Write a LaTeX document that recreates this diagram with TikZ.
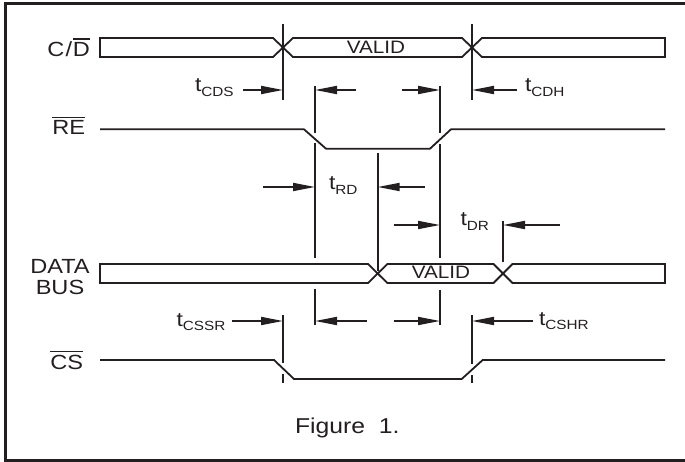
\documentclass[tikz,border=0pt]{standalone}
\usepackage{fontspec}
\setmainfont{Liberation Sans}[FakeStretch=1.15]
\usetikzlibrary{arrows.meta}
\definecolor{ink}{HTML}{231F20}
\newcommand\ovl[1]{\leavevmode\vbox{\hrule height 1.6pt\kern 2.6pt\hbox{#1}}}
\newcommand\lblfont{\fontsize{20.5}{22}\selectfont}
\newcommand\valfont{\fontsize{18}{19}\selectfont}
\newcommand\tlab[1]{{\fontsize{20}{20}\selectfont t}\raisebox{-4.5pt}{\fontsize{13.3}{14}\selectfont #1}}
\tikzset{
  sig/.style={draw=ink, line width=1.8pt, line join=miter},
  tick/.style={draw=ink, line width=1.8pt},
  dimarrow/.style={draw=ink, line width=1.8pt, -{Triangle[length=22pt,width=8pt]}},
  txt/.style={inner sep=0pt, outer sep=0pt, text=ink},
}
\begin{document}
\begin{tikzpicture}[x=1pt,y=-1pt]
\useasboundingbox (0,0) rectangle (685,462);
% frame
\draw[ink, line width=3.2pt] (700,3.8) -- (5.6,3.8) -- (5.6,460.6) -- (700,460.6);

% ---- C/D bus ----
\draw[sig] (100,38) -- (273,38) -- (283,47.5) -- (273,57) -- (100,57) -- cycle;
\draw[sig] (293,38) -- (462,38) -- (472,47.5) -- (462,57) -- (293,57) -- (283,47.5) -- cycle;
\draw[sig] (482,38) -- (665,38) -- (665,57) -- (482,57) -- (472,47.5) -- cycle;
\node[txt, anchor=base] (valid1) at (376,54) {\valfont VALID};

% ---- RE ----
\draw[sig] (100,129.3) -- (304,129.3) -- (326,148.7) -- (430,148.7) -- (451,129.3) -- (665,129.3);

% ---- DATA BUS ----
\draw[sig] (100,264) -- (368,264) -- (377.7,273.5) -- (368,283) -- (100,283) -- cycle;
\draw[sig] (387.4,264) -- (493.5,264) -- (503,273.5) -- (493.5,283) -- (387.4,283) -- (377.7,273.5) -- cycle;
\draw[sig] (512.5,264) -- (665,264) -- (665,283) -- (512.5,283) -- (503,273.5) -- cycle;
\node[txt, anchor=base] (valid2) at (441,279) {\valfont VALID};

% ---- CS ----
\draw[sig] (100,360) -- (274,360) -- (294,379) -- (461.7,379) -- (482.7,360) -- (665,360);

% ---- marker lines ----
\coordinate (m1a) at (283,24);  \coordinate (m1b) at (283,100);
\coordinate (m2a) at (472,24);  \coordinate (m2b) at (472,100);
\draw[tick] (m1a) -- (m1b);
\draw[tick] (m2a) -- (m2b);
\draw[tick] (315,86) -- (315,133.5);
\draw[tick] (315,143.5) -- (315,258);
\draw[tick] (315,288.5) -- (315,325);
\draw[tick] (440,86) -- (440,133.5);
\draw[tick] (440,144.5) -- (440,258);
\draw[tick] (440,289.5) -- (440,325);
\draw[tick] (377.7,153) -- (377.7,271);
\draw[tick] (503,221) -- (503,262);
\draw[tick] (283,315) -- (283,363);
\draw[tick] (283,374) -- (283,383);
\draw[tick] (472,315) -- (472,364);
\draw[tick] (472,375) -- (472,383);

% ---- dimension arrows ----
\coordinate (a1t) at (243,90);   \coordinate (a1h) at (283,90);
\coordinate (a2t) at (356,90);   \coordinate (a2h) at (315,90);
\coordinate (a3t) at (402,90);   \coordinate (a3h) at (440,90);
\coordinate (a4t) at (517,90);   \coordinate (a4h) at (472,90);
\coordinate (a5t) at (263,187);  \coordinate (a5h) at (315,187);
\coordinate (a6t) at (425,187);  \coordinate (a6h) at (377.7,187);
\coordinate (a7t) at (394,225);  \coordinate (a7h) at (440,225);
\coordinate (a8t) at (560,225);  \coordinate (a8h) at (503,225);
\coordinate (a9t) at (232,321);  \coordinate (a9h) at (283,321);
\coordinate (a10t) at (367,321); \coordinate (a10h) at (315,321);
\coordinate (a11t) at (394,321); \coordinate (a11h) at (440,321);
\coordinate (a12t) at (533,321); \coordinate (a12h) at (472,321);
\foreach \i in {1,...,12} \draw[dimarrow] (a\i t) -- (a\i h);

% ---- timing labels ----
\node[txt, anchor=base west] (tcds) at (195,92) {\tlab{CDS}};
\node[txt, anchor=base west] (tcdh) at (525,92) {\tlab{CDH}};
\node[txt, anchor=base west] (trd) at (329,190) {\tlab{RD}};
\node[txt, anchor=base west] (tdr) at (460.5,226) {\tlab{DR}};
\node[txt, anchor=base west] (tcssr) at (176.5,326) {\tlab{CSSR}};
\node[txt, anchor=base west] (tcshr) at (539,325) {\tlab{CSHR}};

% ---- signal names ----
\node[txt, anchor=base east] (cd) at (90,56.7) {\lblfont C\kern1.2pt/\kern0.8pt\ovl{D}};
\node[txt, anchor=base east] (re) at (85,135) {\lblfont \ovl{RE}};
\node[txt, anchor=base] (data) at (60,273.3) {\lblfont DATA};
\node[txt, anchor=base] (bus) at (60,294.3) {\lblfont BUS};
\node[txt, anchor=base east] (cs) at (83,369.3) {\lblfont \ovl{CS}};

\node[txt, anchor=base west] (fig) at (295,433) {\fontsize{21.5}{23}\selectfont Figure\ \ 1.};
\end{tikzpicture}
\end{document}
